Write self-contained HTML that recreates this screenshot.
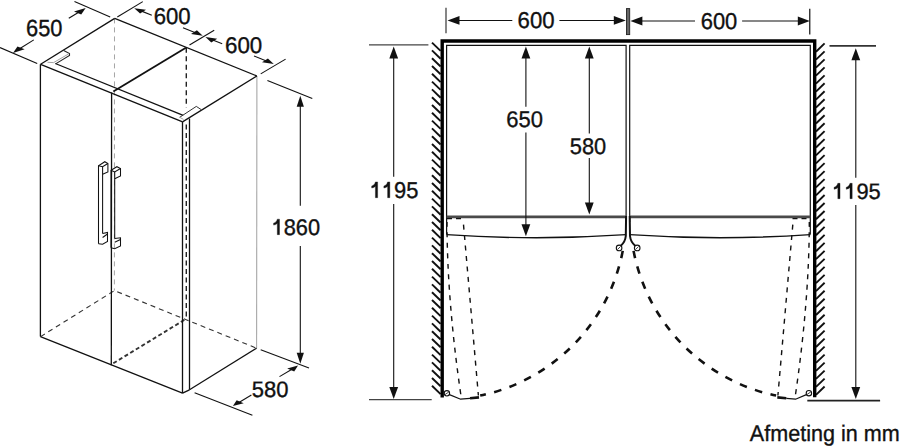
<!DOCTYPE html>
<html><head><meta charset="utf-8"><style>
html,body{margin:0;padding:0;background:#fff;}
body{width:900px;height:446px;overflow:hidden;}
svg{display:block;}
text{font-family:"Liberation Sans",sans-serif;fill:#111;text-rendering:geometricPrecision;stroke:#111;stroke-width:0.35px;}
</style></head><body>
<svg width="900" height="446" viewBox="0 0 900 446">
<line x1="114.50" y1="18.40" x2="114.40" y2="290.60" stroke="#a5a5a5" stroke-width="1.0" stroke-dasharray="5,4"/>
<line x1="186.30" y1="47.80" x2="186.30" y2="107.50" stroke="#222" stroke-width="1.4" stroke-dasharray="5,3.5"/>
<line x1="186.30" y1="124.50" x2="186.30" y2="319.50" stroke="#222" stroke-width="1.4" stroke-dasharray="5,3.5"/>
<line x1="256.90" y1="76.00" x2="256.60" y2="348.20" stroke="#a8a8a8" stroke-width="1.1" />
<polyline points="40.60,336.60 114.40,290.60 256.60,348.20" fill="none" stroke="#333" stroke-width="1.1" stroke-dasharray="5,4"/>
<line x1="113.30" y1="363.30" x2="185.50" y2="319.20" stroke="#333" stroke-width="1.9" stroke-dasharray="4,2.6"/>
<line x1="40.60" y1="64.30" x2="114.70" y2="18.40" stroke="#111" stroke-width="1.3" />
<line x1="114.70" y1="18.40" x2="256.90" y2="76.00" stroke="#111" stroke-width="1.3" />
<line x1="256.90" y1="76.00" x2="182.50" y2="121.90" stroke="#111" stroke-width="1.3" />
<line x1="185.90" y1="47.80" x2="113.30" y2="91.50" stroke="#111" stroke-width="1.8" />
<line x1="40.60" y1="64.30" x2="182.60" y2="121.90" stroke="#111" stroke-width="1.3" />
<line x1="55.30" y1="63.50" x2="183.20" y2="115.40" stroke="#111" stroke-width="1.3" />
<line x1="40.40" y1="64.30" x2="40.40" y2="336.60" stroke="#111" stroke-width="1.3" />
<line x1="111.60" y1="92.60" x2="111.30" y2="365.30" stroke="#111" stroke-width="1.3" />
<line x1="182.50" y1="121.90" x2="182.50" y2="393.20" stroke="#111" stroke-width="1.3" />
<line x1="189.50" y1="118.60" x2="189.50" y2="389.80" stroke="#111" stroke-width="1.3" />
<line x1="40.40" y1="336.60" x2="182.50" y2="393.20" stroke="#111" stroke-width="1.3" />
<line x1="182.50" y1="393.20" x2="189.50" y2="389.80" stroke="#111" stroke-width="1.3" />
<line x1="189.50" y1="389.80" x2="256.60" y2="348.20" stroke="#111" stroke-width="1.3" />
<polyline points="63.70,50.60 69.50,53.60 69.50,55.40 55.60,63.90" fill="none" stroke="#222" stroke-width="1.1" />
<polyline points="68.60,53.90 53.60,62.60 47.50,62.30" fill="none" stroke="#999" stroke-width="0.9" />
<polyline points="179.70,117.30 196.30,106.40 201.20,109.60" fill="none" stroke="#333" stroke-width="1.0" />
<line x1="179.50" y1="117.20" x2="183.50" y2="119.40" stroke="#999" stroke-width="0.9" />
<polyline points="98.50,243.80 98.50,165.80 104.80,161.70 107.90,163.50 107.90,172.00 102.60,174.30" fill="none" stroke="#111" stroke-width="1.05" />
<polyline points="98.50,165.80 102.60,166.70 107.90,163.50" fill="none" stroke="#111" stroke-width="1.05" />
<line x1="102.60" y1="166.70" x2="102.60" y2="233.50" stroke="#111" stroke-width="1.05" />
<polyline points="102.60,233.50 107.50,232.40 107.50,241.50 102.60,244.20 98.50,243.80" fill="none" stroke="#111" stroke-width="1.05" />
<line x1="102.60" y1="237.50" x2="107.50" y2="234.00" stroke="#111" stroke-width="1.05" />
<polyline points="111.00,247.80 111.00,170.20 116.90,166.70 120.50,168.50 120.50,176.00 114.70,178.80" fill="none" stroke="#111" stroke-width="1.05" />
<polyline points="111.00,170.20 114.70,172.00 120.50,168.50" fill="none" stroke="#111" stroke-width="1.05" />
<line x1="114.70" y1="172.00" x2="114.70" y2="238.50" stroke="#111" stroke-width="1.05" />
<polyline points="114.70,238.50 120.50,237.80 120.50,246.00 114.70,248.80 111.00,247.80" fill="none" stroke="#111" stroke-width="1.05" />
<line x1="114.70" y1="242.30" x2="120.50" y2="239.50" stroke="#111" stroke-width="1.05" />
<line x1="0.00" y1="47.60" x2="37.20" y2="63.60" stroke="#111" stroke-width="1.1" />
<line x1="74.50" y1="1.60" x2="110.20" y2="16.90" stroke="#111" stroke-width="1.1" />
<polygon points="12.99,52.92 24.65,49.37 17.44,46.39" fill="#111"/>
<line x1="19.14" y1="49.07" x2="33.80" y2="39.90" stroke="#111" stroke-width="1.1" />
<polygon points="85.71,7.99 81.21,14.42 74.00,11.44" fill="#111"/>
<line x1="79.52" y1="11.76" x2="68.80" y2="18.30" stroke="#111" stroke-width="1.1" />
<text transform="translate(25.99,36.07) scale(0.9378,1)" font-size="23.30">6</text>
<text transform="translate(38.14,36.07) scale(0.9378,1)" font-size="23.30">5</text>
<text transform="translate(50.30,36.07) scale(0.9378,1)" font-size="23.30">0</text>
<line x1="117.30" y1="17.00" x2="142.80" y2="1.60" stroke="#111" stroke-width="1.1" />
<line x1="189.50" y1="45.00" x2="214.20" y2="30.20" stroke="#111" stroke-width="1.1" />
<polygon points="134.24,8.18 146.03,9.85 140.09,13.56" fill="#111"/>
<line x1="140.97" y1="10.87" x2="151.80" y2="15.20" stroke="#111" stroke-width="1.1" />
<polygon points="202.76,35.72 196.91,30.34 190.97,34.04" fill="#111"/>
<line x1="196.03" y1="33.02" x2="183.00" y2="27.80" stroke="#111" stroke-width="1.1" />
<text transform="translate(153.63,23.68) scale(0.9676,1)" font-size="22.88">6</text>
<text transform="translate(165.94,23.68) scale(0.9676,1)" font-size="22.88">0</text>
<text transform="translate(178.25,23.68) scale(0.9676,1)" font-size="22.88">0</text>
<line x1="260.70" y1="73.90" x2="285.60" y2="59.10" stroke="#111" stroke-width="1.1" />
<polygon points="205.44,36.97 217.21,38.71 211.27,42.41" fill="#111"/>
<line x1="212.16" y1="39.71" x2="222.20" y2="43.80" stroke="#111" stroke-width="1.1" />
<polygon points="273.75,64.03 267.94,58.56 262.00,62.27" fill="#111"/>
<line x1="267.05" y1="61.27" x2="254.00" y2="55.90" stroke="#111" stroke-width="1.1" />
<text transform="translate(224.96,52.98) scale(0.9809,1)" font-size="22.80">6</text>
<text transform="translate(237.40,52.98) scale(0.9809,1)" font-size="22.80">0</text>
<text transform="translate(249.84,52.98) scale(0.9809,1)" font-size="22.80">0</text>
<line x1="267.40" y1="80.50" x2="312.30" y2="98.60" stroke="#111" stroke-width="1.1" />
<line x1="260.70" y1="349.70" x2="309.00" y2="368.10" stroke="#111" stroke-width="1.1" />
<polygon points="300.30,95.70 303.90,106.70 296.70,106.70" fill="#111"/>
<line x1="300.30" y1="104.00" x2="300.30" y2="205.80" stroke="#111" stroke-width="1.1" />
<polygon points="300.30,363.80 296.70,352.80 303.90,352.80" fill="#111"/>
<line x1="300.30" y1="355.50" x2="300.30" y2="246.10" stroke="#111" stroke-width="1.1" />
<path transform="translate(271.59,234.63) scale(21.829,22.528)" d="M0.262,-0.688 L0.363,-0.688 L0.363,0 L0.262,0 L0.262,-0.500 C0.215,-0.455 0.16,-0.43 0.092,-0.422 L0.092,-0.512 C0.17,-0.528 0.235,-0.585 0.262,-0.688 Z" fill="#111" stroke="#111" stroke-width="0.016"/>
<text transform="translate(283.73,234.63) scale(0.9690,1)" font-size="22.53">8</text>
<text transform="translate(295.87,234.63) scale(0.9690,1)" font-size="22.53">6</text>
<text transform="translate(308.01,234.63) scale(0.9690,1)" font-size="22.53">0</text>
<line x1="194.60" y1="392.80" x2="252.40" y2="415.30" stroke="#111" stroke-width="1.1" />
<polygon points="298.02,365.59 294.22,371.39 287.20,368.49" fill="#111"/>
<line x1="292.39" y1="368.94" x2="279.50" y2="376.60" stroke="#111" stroke-width="1.1" />
<polygon points="232.89,406.11 243.69,403.19 236.66,400.28" fill="#111"/>
<line x1="238.50" y1="402.74" x2="251.40" y2="395.00" stroke="#111" stroke-width="1.1" />
<text transform="translate(251.82,397.28) scale(0.9868,1)" font-size="22.32">5</text>
<text transform="translate(264.07,397.28) scale(0.9868,1)" font-size="22.32">8</text>
<text transform="translate(276.31,397.28) scale(0.9868,1)" font-size="22.32">0</text>
<line x1="432.00" y1="42.60" x2="440.60" y2="50.90" stroke="#111" stroke-width="1.9" />
<line x1="432.00" y1="50.40" x2="440.60" y2="58.70" stroke="#111" stroke-width="1.9" />
<line x1="432.00" y1="58.20" x2="440.60" y2="66.50" stroke="#111" stroke-width="1.9" />
<line x1="432.00" y1="66.00" x2="440.60" y2="74.30" stroke="#111" stroke-width="1.9" />
<line x1="432.00" y1="73.80" x2="440.60" y2="82.10" stroke="#111" stroke-width="1.9" />
<line x1="432.00" y1="81.60" x2="440.60" y2="89.90" stroke="#111" stroke-width="1.9" />
<line x1="432.00" y1="89.40" x2="440.60" y2="97.70" stroke="#111" stroke-width="1.9" />
<line x1="432.00" y1="97.20" x2="440.60" y2="105.50" stroke="#111" stroke-width="1.9" />
<line x1="432.00" y1="105.00" x2="440.60" y2="113.30" stroke="#111" stroke-width="1.9" />
<line x1="432.00" y1="112.80" x2="440.60" y2="121.10" stroke="#111" stroke-width="1.9" />
<line x1="432.00" y1="120.60" x2="440.60" y2="128.90" stroke="#111" stroke-width="1.9" />
<line x1="432.00" y1="128.40" x2="440.60" y2="136.70" stroke="#111" stroke-width="1.9" />
<line x1="432.00" y1="136.20" x2="440.60" y2="144.50" stroke="#111" stroke-width="1.9" />
<line x1="432.00" y1="144.00" x2="440.60" y2="152.30" stroke="#111" stroke-width="1.9" />
<line x1="432.00" y1="151.80" x2="440.60" y2="160.10" stroke="#111" stroke-width="1.9" />
<line x1="432.00" y1="159.60" x2="440.60" y2="167.90" stroke="#111" stroke-width="1.9" />
<line x1="432.00" y1="167.40" x2="440.60" y2="175.70" stroke="#111" stroke-width="1.9" />
<line x1="432.00" y1="175.20" x2="440.60" y2="183.50" stroke="#111" stroke-width="1.9" />
<line x1="432.00" y1="183.00" x2="440.60" y2="191.30" stroke="#111" stroke-width="1.9" />
<line x1="432.00" y1="190.80" x2="440.60" y2="199.10" stroke="#111" stroke-width="1.9" />
<line x1="432.00" y1="198.60" x2="440.60" y2="206.90" stroke="#111" stroke-width="1.9" />
<line x1="432.00" y1="206.40" x2="440.60" y2="214.70" stroke="#111" stroke-width="1.9" />
<line x1="432.00" y1="214.20" x2="440.60" y2="222.50" stroke="#111" stroke-width="1.9" />
<line x1="432.00" y1="222.00" x2="440.60" y2="230.30" stroke="#111" stroke-width="1.9" />
<line x1="432.00" y1="229.80" x2="440.60" y2="238.10" stroke="#111" stroke-width="1.9" />
<line x1="432.00" y1="237.60" x2="440.60" y2="245.90" stroke="#111" stroke-width="1.9" />
<line x1="432.00" y1="245.40" x2="440.60" y2="253.70" stroke="#111" stroke-width="1.9" />
<line x1="432.00" y1="253.20" x2="440.60" y2="261.50" stroke="#111" stroke-width="1.9" />
<line x1="432.00" y1="261.00" x2="440.60" y2="269.30" stroke="#111" stroke-width="1.9" />
<line x1="432.00" y1="268.80" x2="440.60" y2="277.10" stroke="#111" stroke-width="1.9" />
<line x1="432.00" y1="276.60" x2="440.60" y2="284.90" stroke="#111" stroke-width="1.9" />
<line x1="432.00" y1="284.40" x2="440.60" y2="292.70" stroke="#111" stroke-width="1.9" />
<line x1="432.00" y1="292.20" x2="440.60" y2="300.50" stroke="#111" stroke-width="1.9" />
<line x1="432.00" y1="300.00" x2="440.60" y2="308.30" stroke="#111" stroke-width="1.9" />
<line x1="432.00" y1="307.80" x2="440.60" y2="316.10" stroke="#111" stroke-width="1.9" />
<line x1="432.00" y1="315.60" x2="440.60" y2="323.90" stroke="#111" stroke-width="1.9" />
<line x1="432.00" y1="323.40" x2="440.60" y2="331.70" stroke="#111" stroke-width="1.9" />
<line x1="432.00" y1="331.20" x2="440.60" y2="339.50" stroke="#111" stroke-width="1.9" />
<line x1="432.00" y1="339.00" x2="440.60" y2="347.30" stroke="#111" stroke-width="1.9" />
<line x1="432.00" y1="346.80" x2="440.60" y2="355.10" stroke="#111" stroke-width="1.9" />
<line x1="432.00" y1="354.60" x2="440.60" y2="362.90" stroke="#111" stroke-width="1.9" />
<line x1="432.00" y1="362.40" x2="440.60" y2="370.70" stroke="#111" stroke-width="1.9" />
<line x1="432.00" y1="370.20" x2="440.60" y2="378.50" stroke="#111" stroke-width="1.9" />
<line x1="432.00" y1="378.00" x2="440.60" y2="386.30" stroke="#111" stroke-width="1.9" />
<line x1="432.00" y1="385.80" x2="440.60" y2="394.10" stroke="#111" stroke-width="1.9" />
<line x1="824.60" y1="43.40" x2="816.00" y2="51.70" stroke="#111" stroke-width="1.9" />
<line x1="824.60" y1="51.38" x2="816.00" y2="59.68" stroke="#111" stroke-width="1.9" />
<line x1="824.60" y1="59.36" x2="816.00" y2="67.66" stroke="#111" stroke-width="1.9" />
<line x1="824.60" y1="67.34" x2="816.00" y2="75.64" stroke="#111" stroke-width="1.9" />
<line x1="824.60" y1="75.32" x2="816.00" y2="83.62" stroke="#111" stroke-width="1.9" />
<line x1="824.60" y1="83.30" x2="816.00" y2="91.60" stroke="#111" stroke-width="1.9" />
<line x1="824.60" y1="91.28" x2="816.00" y2="99.58" stroke="#111" stroke-width="1.9" />
<line x1="824.60" y1="99.26" x2="816.00" y2="107.56" stroke="#111" stroke-width="1.9" />
<line x1="824.60" y1="107.24" x2="816.00" y2="115.54" stroke="#111" stroke-width="1.9" />
<line x1="824.60" y1="115.22" x2="816.00" y2="123.52" stroke="#111" stroke-width="1.9" />
<line x1="824.60" y1="123.20" x2="816.00" y2="131.50" stroke="#111" stroke-width="1.9" />
<line x1="824.60" y1="131.18" x2="816.00" y2="139.48" stroke="#111" stroke-width="1.9" />
<line x1="824.60" y1="139.16" x2="816.00" y2="147.46" stroke="#111" stroke-width="1.9" />
<line x1="824.60" y1="147.14" x2="816.00" y2="155.44" stroke="#111" stroke-width="1.9" />
<line x1="824.60" y1="155.12" x2="816.00" y2="163.42" stroke="#111" stroke-width="1.9" />
<line x1="824.60" y1="163.10" x2="816.00" y2="171.40" stroke="#111" stroke-width="1.9" />
<line x1="824.60" y1="171.08" x2="816.00" y2="179.38" stroke="#111" stroke-width="1.9" />
<line x1="824.60" y1="179.06" x2="816.00" y2="187.36" stroke="#111" stroke-width="1.9" />
<line x1="824.60" y1="187.04" x2="816.00" y2="195.34" stroke="#111" stroke-width="1.9" />
<line x1="824.60" y1="195.02" x2="816.00" y2="203.32" stroke="#111" stroke-width="1.9" />
<line x1="824.60" y1="203.00" x2="816.00" y2="211.30" stroke="#111" stroke-width="1.9" />
<line x1="824.60" y1="210.98" x2="816.00" y2="219.28" stroke="#111" stroke-width="1.9" />
<line x1="824.60" y1="218.96" x2="816.00" y2="227.26" stroke="#111" stroke-width="1.9" />
<line x1="824.60" y1="226.94" x2="816.00" y2="235.24" stroke="#111" stroke-width="1.9" />
<line x1="824.60" y1="234.92" x2="816.00" y2="243.22" stroke="#111" stroke-width="1.9" />
<line x1="824.60" y1="242.90" x2="816.00" y2="251.20" stroke="#111" stroke-width="1.9" />
<line x1="824.60" y1="250.88" x2="816.00" y2="259.18" stroke="#111" stroke-width="1.9" />
<line x1="824.60" y1="258.86" x2="816.00" y2="267.16" stroke="#111" stroke-width="1.9" />
<line x1="824.60" y1="266.84" x2="816.00" y2="275.14" stroke="#111" stroke-width="1.9" />
<line x1="824.60" y1="274.82" x2="816.00" y2="283.12" stroke="#111" stroke-width="1.9" />
<line x1="824.60" y1="282.80" x2="816.00" y2="291.10" stroke="#111" stroke-width="1.9" />
<line x1="824.60" y1="290.78" x2="816.00" y2="299.08" stroke="#111" stroke-width="1.9" />
<line x1="824.60" y1="298.76" x2="816.00" y2="307.06" stroke="#111" stroke-width="1.9" />
<line x1="824.60" y1="306.74" x2="816.00" y2="315.04" stroke="#111" stroke-width="1.9" />
<line x1="824.60" y1="314.72" x2="816.00" y2="323.02" stroke="#111" stroke-width="1.9" />
<line x1="824.60" y1="322.70" x2="816.00" y2="331.00" stroke="#111" stroke-width="1.9" />
<line x1="824.60" y1="330.68" x2="816.00" y2="338.98" stroke="#111" stroke-width="1.9" />
<line x1="824.60" y1="338.66" x2="816.00" y2="346.96" stroke="#111" stroke-width="1.9" />
<line x1="824.60" y1="346.64" x2="816.00" y2="354.94" stroke="#111" stroke-width="1.9" />
<line x1="824.60" y1="354.62" x2="816.00" y2="362.92" stroke="#111" stroke-width="1.9" />
<line x1="824.60" y1="362.60" x2="816.00" y2="370.90" stroke="#111" stroke-width="1.9" />
<line x1="824.60" y1="370.58" x2="816.00" y2="378.88" stroke="#111" stroke-width="1.9" />
<line x1="824.60" y1="378.56" x2="816.00" y2="386.86" stroke="#111" stroke-width="1.9" />
<line x1="824.60" y1="386.54" x2="816.00" y2="394.84" stroke="#111" stroke-width="1.9" />
<polyline points="442.20,397.60 442.20,41.00 814.70,41.00 814.70,397.20" fill="none" stroke="#000" stroke-width="3.4" stroke-linejoin="miter"/>
<polyline points="446.60,234.50 446.60,45.40 626.10,45.40 626.10,222.00" fill="none" stroke="#111" stroke-width="1.2" />
<polyline points="629.70,222.00 629.70,45.40 810.30,45.40 810.30,234.50" fill="none" stroke="#111" stroke-width="1.2" />
<line x1="446.60" y1="216.90" x2="626.10" y2="216.90" stroke="#4a4a4a" stroke-width="2.8" />
<line x1="629.70" y1="216.90" x2="810.30" y2="216.90" stroke="#4a4a4a" stroke-width="2.8" />
<line x1="447.00" y1="218.60" x2="464.00" y2="218.60" stroke="#111" stroke-width="1.3" stroke-dasharray="5,4"/>
<line x1="792.50" y1="218.60" x2="809.50" y2="218.60" stroke="#111" stroke-width="1.3" stroke-dasharray="5,4"/>
<path d="M446.6,234.6 Q536,240.8 626.1,234.6" fill="none" stroke="#111" stroke-width="1.4"/>
<path d="M629.7,234.6 Q720,240.8 810.3,234.6" fill="none" stroke="#111" stroke-width="1.4"/>
<path d="M626.1,216 L625.8,236 Q625.2,242 620.6,246" fill="none" stroke="#111" stroke-width="2.0"/>
<path d="M629.7,216 L630.0,236 Q630.6,242 635.4,246" fill="none" stroke="#111" stroke-width="2.0"/>
<circle cx="619.1" cy="247.9" r="2.8" fill="#fff" stroke="#111" stroke-width="1.1"/>
<circle cx="637.2" cy="247.9" r="2.8" fill="#fff" stroke="#111" stroke-width="1.1"/>
<line x1="617.60" y1="249.40" x2="620.60" y2="246.40" stroke="#111" stroke-width="0.8" />
<line x1="635.70" y1="249.40" x2="638.70" y2="246.40" stroke="#111" stroke-width="0.8" />
<path d="M622.74,250.88 A182.9,182.9 0 0 1 480.19,395.60" fill="none" stroke="#111" stroke-width="2.6" stroke-dasharray="7.5,8.6"/>
<path d="M633.56,250.88 A182.9,182.9 0 0 0 776.11,395.60" fill="none" stroke="#111" stroke-width="2.6" stroke-dasharray="7.5,8.6"/>
<path d="M447,222 Q447,300 461,396" fill="none" stroke="#111" stroke-width="1.4" stroke-dasharray="5,5.5"/>
<line x1="463.50" y1="224.60" x2="478.40" y2="395.50" stroke="#111" stroke-width="1.4" stroke-dasharray="5,5.5"/>
<path d="M809.3,222 Q809.3,300 795.3,396" fill="none" stroke="#111" stroke-width="1.4" stroke-dasharray="5,5.5"/>
<line x1="792.80" y1="224.60" x2="777.90" y2="395.50" stroke="#111" stroke-width="1.4" stroke-dasharray="5,5.5"/>
<circle cx="446.9" cy="393.3" r="2.7" fill="#fff" stroke="#111" stroke-width="1.1"/>
<circle cx="808.9" cy="393.2" r="2.7" fill="#fff" stroke="#111" stroke-width="1.1"/>
<line x1="445.10" y1="394.50" x2="448.70" y2="392.10" stroke="#111" stroke-width="0.8" />
<line x1="807.10" y1="394.40" x2="810.70" y2="392.00" stroke="#111" stroke-width="0.8" />
<polyline points="449.40,394.60 460.60,399.20 470.00,398.40" fill="none" stroke="#111" stroke-width="1.2" />
<line x1="470.00" y1="398.20" x2="479.00" y2="397.40" stroke="#111" stroke-width="2.6" />
<polyline points="806.40,394.60 795.60,399.20 786.30,398.40" fill="none" stroke="#111" stroke-width="1.2" />
<line x1="786.30" y1="398.20" x2="777.30" y2="397.40" stroke="#111" stroke-width="2.6" />
<line x1="446.00" y1="7.80" x2="446.00" y2="33.20" stroke="#444" stroke-width="1.3" />
<line x1="809.75" y1="8.70" x2="809.75" y2="34.60" stroke="#222" stroke-width="1.3" />
<rect x="626.5" y="8.6" width="3.2" height="26" fill="#666" stroke="#222" stroke-width="0.9"/>
<polygon points="447.50,20.45 459.50,16.05 459.50,24.85" fill="#111"/>
<line x1="456.50" y1="20.45" x2="512.30" y2="20.45" stroke="#111" stroke-width="1.1" />
<polygon points="625.80,20.45 613.80,24.85 613.80,16.05" fill="#111"/>
<line x1="616.80" y1="20.45" x2="559.40" y2="20.45" stroke="#111" stroke-width="1.1" />
<text transform="translate(517.57,27.68) scale(0.9690,1)" font-size="22.88">6</text>
<text transform="translate(529.90,27.68) scale(0.9690,1)" font-size="22.88">0</text>
<text transform="translate(542.24,27.68) scale(0.9690,1)" font-size="22.88">0</text>
<polygon points="630.40,21.00 642.40,16.60 642.40,25.40" fill="#111"/>
<line x1="639.40" y1="21.00" x2="695.00" y2="21.00" stroke="#111" stroke-width="1.1" />
<polygon points="809.80,21.00 797.80,25.40 797.80,16.60" fill="#111"/>
<line x1="800.80" y1="21.00" x2="742.10" y2="21.00" stroke="#111" stroke-width="1.1" />
<text transform="translate(700.69,28.68) scale(0.9579,1)" font-size="22.88">6</text>
<text transform="translate(712.88,28.68) scale(0.9579,1)" font-size="22.88">0</text>
<text transform="translate(725.07,28.68) scale(0.9579,1)" font-size="22.88">0</text>
<line x1="369.00" y1="44.80" x2="428.40" y2="44.80" stroke="#444" stroke-width="1.3" />
<line x1="369.00" y1="399.70" x2="431.70" y2="399.70" stroke="#444" stroke-width="1.3" />
<polygon points="393.70,46.60 398.10,58.60 389.30,58.60" fill="#111"/>
<line x1="393.70" y1="55.60" x2="393.70" y2="176.70" stroke="#111" stroke-width="1.1" />
<polygon points="393.70,399.00 389.30,387.00 398.10,387.00" fill="#111"/>
<line x1="393.70" y1="390.00" x2="393.70" y2="203.90" stroke="#111" stroke-width="1.1" />
<path transform="translate(369.68,197.68) scale(21.907,22.881)" d="M0.262,-0.688 L0.363,-0.688 L0.363,0 L0.262,0 L0.262,-0.500 C0.215,-0.455 0.16,-0.43 0.092,-0.422 L0.092,-0.512 C0.17,-0.528 0.235,-0.585 0.262,-0.688 Z" fill="#111" stroke="#111" stroke-width="0.016"/>
<path transform="translate(381.87,197.68) scale(21.907,22.881)" d="M0.262,-0.688 L0.363,-0.688 L0.363,0 L0.262,0 L0.262,-0.500 C0.215,-0.455 0.16,-0.43 0.092,-0.422 L0.092,-0.512 C0.17,-0.528 0.235,-0.585 0.262,-0.688 Z" fill="#111" stroke="#111" stroke-width="0.016"/>
<text transform="translate(394.05,197.68) scale(0.9574,1)" font-size="22.88">9</text>
<text transform="translate(406.24,197.68) scale(0.9574,1)" font-size="22.88">5</text>
<line x1="829.50" y1="45.90" x2="876.00" y2="45.90" stroke="#333" stroke-width="1.6" />
<line x1="807.30" y1="400.70" x2="880.10" y2="400.70" stroke="#222" stroke-width="1.7" />
<polygon points="855.80,48.20 860.20,60.20 851.40,60.20" fill="#111"/>
<line x1="855.80" y1="57.20" x2="855.80" y2="177.70" stroke="#111" stroke-width="1.1" />
<polygon points="855.80,399.10 851.40,387.10 860.20,387.10" fill="#111"/>
<line x1="855.80" y1="390.10" x2="855.80" y2="205.00" stroke="#111" stroke-width="1.1" />
<path transform="translate(832.09,198.68) scale(21.860,22.316)" d="M0.262,-0.688 L0.363,-0.688 L0.363,0 L0.262,0 L0.262,-0.500 C0.215,-0.455 0.16,-0.43 0.092,-0.422 L0.092,-0.512 C0.17,-0.528 0.235,-0.585 0.262,-0.688 Z" fill="#111" stroke="#111" stroke-width="0.016"/>
<path transform="translate(844.25,198.68) scale(21.860,22.316)" d="M0.262,-0.688 L0.363,-0.688 L0.363,0 L0.262,0 L0.262,-0.500 C0.215,-0.455 0.16,-0.43 0.092,-0.422 L0.092,-0.512 C0.17,-0.528 0.235,-0.585 0.262,-0.688 Z" fill="#111" stroke="#111" stroke-width="0.016"/>
<text transform="translate(856.40,198.68) scale(0.9795,1)" font-size="22.32">9</text>
<text transform="translate(868.56,198.68) scale(0.9795,1)" font-size="22.32">5</text>
<polygon points="525.90,46.60 530.30,58.60 521.50,58.60" fill="#111"/>
<line x1="525.90" y1="55.60" x2="525.90" y2="106.80" stroke="#111" stroke-width="1.1" />
<polygon points="525.90,236.30 521.50,224.30 530.30,224.30" fill="#111"/>
<line x1="525.90" y1="227.30" x2="525.90" y2="132.40" stroke="#111" stroke-width="1.1" />
<text transform="translate(506.28,127.28) scale(0.9666,1)" font-size="22.74">6</text>
<text transform="translate(518.51,127.28) scale(0.9666,1)" font-size="22.74">5</text>
<text transform="translate(530.73,127.28) scale(0.9666,1)" font-size="22.74">0</text>
<polygon points="589.30,46.60 593.70,58.60 584.90,58.60" fill="#111"/>
<line x1="589.30" y1="55.60" x2="589.30" y2="133.40" stroke="#111" stroke-width="1.1" />
<polygon points="589.30,214.60 584.90,202.60 593.70,202.60" fill="#111"/>
<line x1="589.30" y1="205.60" x2="589.30" y2="157.90" stroke="#111" stroke-width="1.1" />
<text transform="translate(569.83,153.68) scale(0.9661,1)" font-size="22.60">5</text>
<text transform="translate(581.97,153.68) scale(0.9661,1)" font-size="22.60">8</text>
<text transform="translate(594.11,153.68) scale(0.9661,1)" font-size="22.60">0</text>
<text transform="translate(749.76,440.61) scale(0.9553,1)" font-size="22.60">A</text>
<text transform="translate(764.16,440.61) scale(0.9553,1)" font-size="22.60">f</text>
<text transform="translate(770.16,440.61) scale(0.9553,1)" font-size="22.60">m</text>
<text transform="translate(788.14,440.61) scale(0.9553,1)" font-size="22.60">e</text>
<text transform="translate(800.15,440.61) scale(0.9553,1)" font-size="22.60">t</text>
<text transform="translate(806.15,440.61) scale(0.9553,1)" font-size="22.60">i</text>
<text transform="translate(810.94,440.61) scale(0.9553,1)" font-size="22.60">n</text>
<text transform="translate(822.95,440.61) scale(0.9553,1)" font-size="22.60">g</text>
<text transform="translate(840.95,440.61) scale(0.9553,1)" font-size="22.60">i</text>
<text transform="translate(845.75,440.61) scale(0.9553,1)" font-size="22.60">n</text>
<text transform="translate(863.76,440.61) scale(0.9553,1)" font-size="22.60">m</text>
<text transform="translate(881.74,440.61) scale(0.9553,1)" font-size="22.60">m</text>
</svg>
</body></html>
